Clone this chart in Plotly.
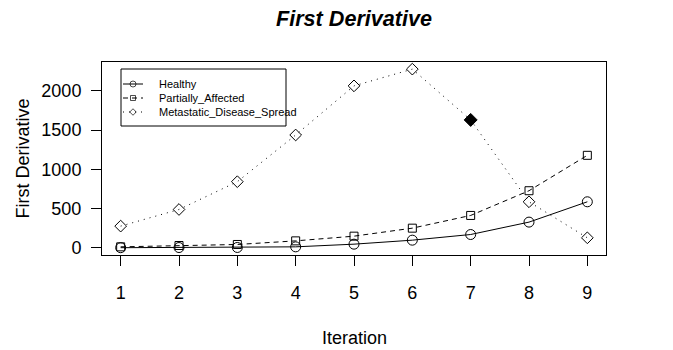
import plotly.graph_objects as go

iterations = [1, 2, 3, 4, 5, 6, 7, 8, 9]
healthy = [2, 4, 5, 13, 47, 98, 170, 328, 587]
partially_affected = [13, 30, 43, 89, 149, 251, 413, 728, 1179]
metastatic = [277, 489, 843, 1438, 2064, 2277, 1630, 587, 128]
highlight_iteration = 7
series_names = ["Healthy", "Partially_Affected", "Metastatic_Disease_Spread"]
y_ticks = [0, 500, 1000, 1500, 2000]

FONT = "Liberation Sans, Arial, sans-serif"
W, H = 673, 350
ML, MR, MT, MB = 102, 67, 62, 95
PW, PH = W - ML - MR, H - MT - MB


def px_x(px):
    return (px - ML) / PW


def px_y(py):
    return (H - MB - py) / PH


fig = go.Figure()

meta_symbols = ["diamond" if it == highlight_iteration else "diamond-open" for it in iterations]
meta_sizes = [10 if it == highlight_iteration else 9 for it in iterations]

styles = [
    dict(dash="solid", symbol="circle-open", size=10),
    dict(dash="5px,4px", symbol="square-open", size=8),
    dict(dash="1px,5px", symbol=meta_symbols, size=meta_sizes),
]
series = [healthy, partially_affected, metastatic]

for name, vals, st in zip(series_names, series, styles):
    fig.add_trace(go.Scatter(x=iterations, y=vals, name=name, mode="lines+markers", showlegend=False,
                             line=dict(color="black", width=1, dash=st["dash"]),
                             marker=dict(symbol=st["symbol"], size=st["size"], color="black",
                                         opacity=1, line=dict(width=1, color="black"))))

# custom legend (R style)
leg_left, leg_right, leg_top, leg_bottom = 121, 286, 69, 126
leg_rows = [84, 98, 112]
shapes = [dict(type="rect", xref="paper", yref="paper",
               x0=px_x(leg_left), x1=px_x(leg_right), y0=px_y(leg_bottom), y1=px_y(leg_top),
               line=dict(color="black", width=1), fillcolor="white", layer="below")]
annotations = []
leg_syms = ["circle-open", "square-open", "diamond-open"]
leg_sizes = [6, 5, 5]
for name, st, row in zip(series_names, styles, leg_rows):
    shapes.append(dict(type="line", xref="paper", yref="paper",
                       x0=px_x(123), x1=px_x(143), y0=px_y(row), y1=px_y(row),
                       line=dict(color="black", width=1, dash=st["dash"]), layer="below"))
    annotations.append(dict(text=name, xref="paper", yref="paper", x=px_x(157), y=px_y(row),
                            xanchor="left", yanchor="middle", showarrow=False,
                            font=dict(size=11)))
fig.add_trace(go.Scatter(x=[px_x(133)] * 3, y=[px_y(r) for r in leg_rows], mode="markers",
                         xaxis="x2", yaxis="y2", showlegend=False, hoverinfo="skip",
                         marker=dict(symbol=leg_syms, size=leg_sizes, color="black",
                                     line=dict(width=1, color="black"))))

annotations += [
    dict(text="<b><i>First Derivative</i></b>", xref="paper", yref="paper", x=0.5, y=px_y(18),
         xanchor="center", yanchor="middle", showarrow=False, font=dict(size=21.6)),
    dict(text="Iteration", xref="paper", yref="paper", x=0.5, y=px_y(338),
         xanchor="center", yanchor="middle", showarrow=False, font=dict(size=18)),
    dict(text="First Derivative", xref="paper", yref="paper", x=px_x(22), y=0.5,
         xanchor="center", yanchor="middle", showarrow=False, textangle=-90, font=dict(size=18)),
]

fig.update_layout(
    width=W, height=H,
    margin=dict(l=ML, r=MR, t=MT, b=MB),
    paper_bgcolor="white", plot_bgcolor="white",
    font=dict(family=FONT, size=18, color="black"),
    showlegend=False,
    xaxis=dict(range=[0.68, 9.32], tickmode="array", tickvals=iterations,
               ticktext=[str(i) for i in iterations],
               showline=True, mirror=True, linecolor="black", linewidth=1,
               ticks="outside", ticklen=10, tickcolor="black", showgrid=False, zeroline=False,
               ticklabelstandoff=11),
    yaxis=dict(range=[-91, 2368], tickmode="array", tickvals=y_ticks,
               showline=True, mirror=True, linecolor="black", linewidth=1,
               ticks="outside", ticklen=10, tickcolor="black", showgrid=False, zeroline=False,
               ticklabelstandoff=6),
    xaxis2=dict(overlaying="x", anchor="y2", range=[0, 1], visible=False),
    yaxis2=dict(overlaying="y", anchor="x2", range=[0, 1], visible=False),
    shapes=shapes,
    annotations=annotations,
)

fig.write_html("out.html")
